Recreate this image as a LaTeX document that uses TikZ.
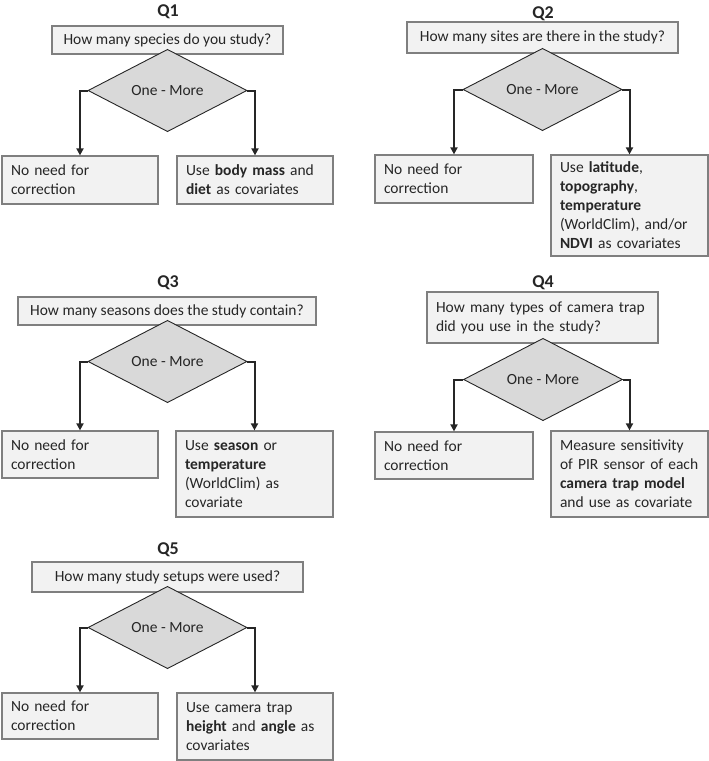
\documentclass[tikz,border=0pt]{standalone}
\usepackage{fontspec}
\setmainfont{Carlito}
\usetikzlibrary{shapes.geometric,arrows.meta}
\definecolor{boxfill}{HTML}{F2F2F2}
\definecolor{boxline}{HTML}{7F7F7F}
\definecolor{dmdfill}{HTML}{D9D9D9}
\definecolor{dark}{HTML}{262626}
\tikzset{
  x=1pt, y=-1pt,
  base/.style={font=\fontsize{15.5}{19}\selectfont, text=dark},
  qbox/.style={base, draw=boxline, line width=1.2pt, fill=boxfill, inner xsep=9pt, inner ysep=0pt, align=left},
  abox/.style={qbox},
  dmd/.style={base, diamond, draw=dark, line width=0.9pt, fill=dmdfill, inner sep=0pt, minimum width=159pt, minimum height=72pt},
  ttl/.style={font=\fontsize{18}{20}\bfseries\selectfont, text=dark, anchor=base},
  conn/.style={draw=dark, line width=2pt, -{Triangle[length=7pt,width=7pt]}}
}
\begin{document}
\begin{tikzpicture}
\useasboundingbox (0,0) rectangle (709,761);
% ---------- Q1 ----------
\node[ttl] (t1) at (168,16) {Q1};
\node[qbox, minimum width=231pt, minimum height=28pt] (q1) at (167.5,40) {How many species do you study?};
\node[dmd] (d1) at (167.5,90.5) {One - More};
\node[abox, text width=138pt, minimum height=48pt] (l1) at (80,180) {No need for\\correction};
\node[abox, text width=138pt, minimum height=48pt] (r1) at (255,180) {Use \textbf{body mass} and\\\textbf{diet} as covariates};
\draw[conn] (d1.west) -| (l1.north);
\draw[conn] (d1.east) -| (r1.north);
% ---------- Q2 ----------
\node[ttl] (t2) at (543,18) {Q2};
\node[qbox, minimum width=271pt, minimum height=31pt] (q2) at (542.5,37.5) {How many sites are there in the study?};
\node[dmd, minimum height=73pt] (d2) at (542.5,89.5) {One - More};
\node[abox, text width=140pt, minimum height=48pt] (l2) at (454,179) {No need for\\correction};
\node[abox, text width=139pt, minimum height=101pt] (r2) at (629.5,205.5) {Use \textbf{latitude},\\\textbf{topography},\\\textbf{temperature}\\(WorldClim), and/or\\\textbf{NDVI} as covariates};
\draw[conn] (d2.west) -| (l2.north);
\draw[conn] (d2.east) -| (r2.north);
% ---------- Q3 ----------
\node[ttl] (t3) at (168,287) {Q3};
\node[qbox, minimum width=298pt, minimum height=28pt] (q3) at (167,311) {How many seasons does the study contain?};
\node[dmd, minimum height=73pt] (d3) at (167.5,361.5) {One - More};
\node[abox, text width=138pt, minimum height=47pt] (l3) at (80,454.5) {No need for\\correction};
\node[abox, text width=139pt, minimum height=86pt] (r3) at (254.5,474) {Use \textbf{season} or\\\textbf{temperature}\\(WorldClim) as\\covariate};
\draw[conn] (d3.west) -| (l3.north);
\draw[conn] (d3.east) -| (r3.north);
% ---------- Q4 ----------
\node[ttl] (t4) at (543,287) {Q4};
\node[qbox, text width=213pt, minimum height=51pt] (q4) at (542.5,317.5) {How many types of camera trap\\did you use in the study?};
\node[dmd, minimum height=71pt] (d4) at (543,379.5) {One - More};
\node[abox, text width=140pt, minimum height=47pt] (l4) at (454,455.5) {No need for\\correction};
\node[abox, text width=139pt, minimum height=86pt] (r4) at (629.5,474) {Measure sensitivity\\of PIR sensor of each\\\textbf{camera trap model}\\and use as covariate};
\draw[conn] (d4.west) -| (l4.north);
\draw[conn] (d4.east) -| (r4.north);
% ---------- Q5 ----------
\node[ttl] (t5) at (168,554) {Q5};
\node[qbox, minimum width=271pt, minimum height=30pt] (q5) at (167.5,577) {How many study setups were used?};
\node[dmd, minimum height=71pt] (d5) at (167.5,627.5) {One - More};
\node[abox, text width=138pt, minimum height=46pt] (l5) at (80,716) {No need for\\correction};
\node[abox, text width=138pt, minimum height=67pt] (r5) at (255,726.5) {Use camera trap\\\textbf{height} and \textbf{angle} as\\covariates};
\draw[conn] (d5.west) -| (l5.north);
\draw[conn] (d5.east) -| (r5.north);
\end{tikzpicture}
\end{document}
